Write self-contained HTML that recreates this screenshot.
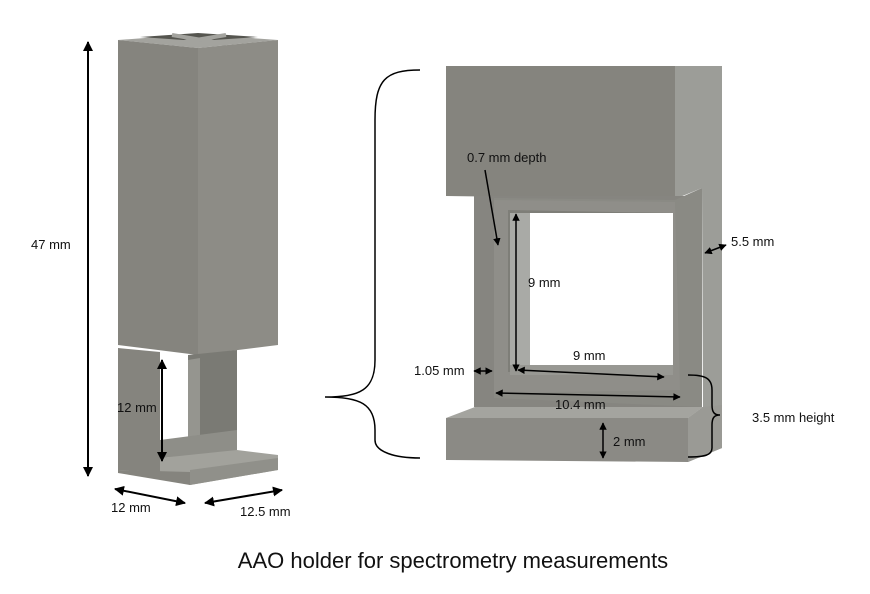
<!DOCTYPE html>
<html><head><style>body{margin:0;background:#fff}svg{display:block}text{font-family:"Liberation Sans",sans-serif;font-size:13px;fill:#111}</style></head><body>
<svg width="870" height="594" viewBox="0 0 870 594">
<defs><marker id="a" viewBox="0 0 10 10" refX="9" refY="5" markerWidth="5" markerHeight="5" orient="auto-start-reverse"><path d="M0,0L10,5L0,10z" fill="#000"/></marker></defs>
<!-- LEFT OBJECT -->
<polygon points="118,40 198,48 278,40 198,34" fill="#a3a39e"/>
<polygon points="140,37 198,41 258,37 198,33" fill="#55554f"/>
<line x1="172" y1="35" x2="226" y2="44" stroke="#a3a39e" stroke-width="4"/>
<line x1="226" y1="35" x2="172" y2="44" stroke="#a3a39e" stroke-width="4"/>
<polygon points="118,40 198,48 198,355 118,345" fill="#85847e"/>
<polygon points="198,48 278,40 278,345 198,355" fill="#8d8c86"/>
<polygon points="188,355 237,350 237,455 188,460" fill="#7a7a74"/>
<polygon points="160,352 188,356 188,460 160,458" fill="#fff"/>
<polygon points="188,360 200,358 200,445 188,448" fill="#95958f"/>
<polygon points="160,440 237,430 237,452 160,458" fill="#8e8e88"/>
<polygon points="118,348 160,352 160,472 118,470" fill="#85847e"/>
<polygon points="160,458 237,450 278,455 278,470 190,485 160,475" fill="#a2a29c"/>
<polygon points="190,470 278,458 278,470 190,485" fill="#90908a"/>
<polygon points="118,470 190,472 190,485 118,473" fill="#85847e"/>
<line x1="88" y1="42" x2="88" y2="476" stroke="#000" stroke-width="2" marker-start="url(#a)" marker-end="url(#a)"/>
<text x="31" y="249">47 mm</text>
<line x1="162" y1="360" x2="162" y2="461" stroke="#000" stroke-width="2" marker-start="url(#a)" marker-end="url(#a)"/>
<text x="117" y="412">12 mm</text>
<line x1="115" y1="489" x2="185" y2="503" stroke="#000" stroke-width="2" marker-start="url(#a)" marker-end="url(#a)"/>
<text x="111" y="512">12 mm</text>
<line x1="205" y1="503" x2="282" y2="490" stroke="#000" stroke-width="2" marker-start="url(#a)" marker-end="url(#a)"/>
<text x="240" y="516">12.5 mm</text>
<!-- big brace -->
<path d="M420,70 C385,70 375,80 375,120 L375,360 C375,390 360,397 325,397 C360,397 375,404 375,430 L375,440 C375,452 395,458 420,458" fill="none" stroke="#000" stroke-width="1.5"/>
<!-- RIGHT OBJECT -->
<polygon points="675,66 722,66 722,448 688,462 688,418 703,407 702,188 675,199" fill="#9c9d98"/>
<polygon points="446,66 675,66 675,199 446,196" fill="#85847e"/>
<polygon points="474,196 702,196 702,407 474,407" fill="#868580"/>
<polygon points="494,198 675,200 702,188 702,407 494,398" fill="#8a8a84"/>
<polygon points="494,200 675,202 680,390 494,393" fill="#8f8e89"/>
<polygon points="508,210 673,213 673,372 508,372" fill="#7e7e78"/>
<polygon points="530,213 673,213 673,365 530,365" fill="#fff"/>
<polygon points="510,213 530,213 530,365 510,370" fill="#a9aaa6"/>
<polygon points="510,365 673,365 673,375 510,375" fill="#989893"/>
<polygon points="446,418 475,407 703,407 688,418" fill="#a4a49f"/>
<polygon points="446,418 688,418 688,462 446,460" fill="#8b8a85"/>
<polygon points="688,418 703,407 722,405 722,448 688,462" fill="#9a9a95"/>
<text x="467" y="162">0.7 mm depth</text>
<line x1="485" y1="170" x2="498" y2="245" stroke="#000" stroke-width="1.5" marker-end="url(#a)"/>
<text x="731" y="246">5.5 mm</text>
<line x1="705" y1="253" x2="726" y2="245" stroke="#000" stroke-width="1.5" marker-start="url(#a)" marker-end="url(#a)"/>
<line x1="516" y1="214" x2="516" y2="371" stroke="#000" stroke-width="1.5" marker-start="url(#a)" marker-end="url(#a)"/>
<text x="528" y="287">9 mm</text>
<line x1="518" y1="370" x2="664" y2="377" stroke="#000" stroke-width="1.5" marker-start="url(#a)" marker-end="url(#a)"/>
<text x="573" y="360">9 mm</text>
<text x="414" y="375">1.05 mm</text>
<line x1="474" y1="371" x2="492" y2="371" stroke="#000" stroke-width="1.5" marker-start="url(#a)" marker-end="url(#a)"/>
<line x1="496" y1="393" x2="680" y2="397" stroke="#000" stroke-width="1.5" marker-start="url(#a)" marker-end="url(#a)"/>
<text x="555" y="409">10.4 mm</text>
<line x1="603" y1="423" x2="603" y2="458" stroke="#000" stroke-width="1.5" marker-start="url(#a)" marker-end="url(#a)"/>
<text x="613" y="446">2 mm</text>
<path d="M688,375 C705,375 712,378 712,390 L712,405 C712,412 714,415 720,415 C714,415 712,418 712,425 L712,448 C712,455 705,457 688,457" fill="none" stroke="#000" stroke-width="1.5"/>
<text x="752" y="422">3.5 mm height</text>
<text x="453" y="568" text-anchor="middle" style="font-size:22px">AAO holder for spectrometry measurements</text>
</svg>
</body></html>
